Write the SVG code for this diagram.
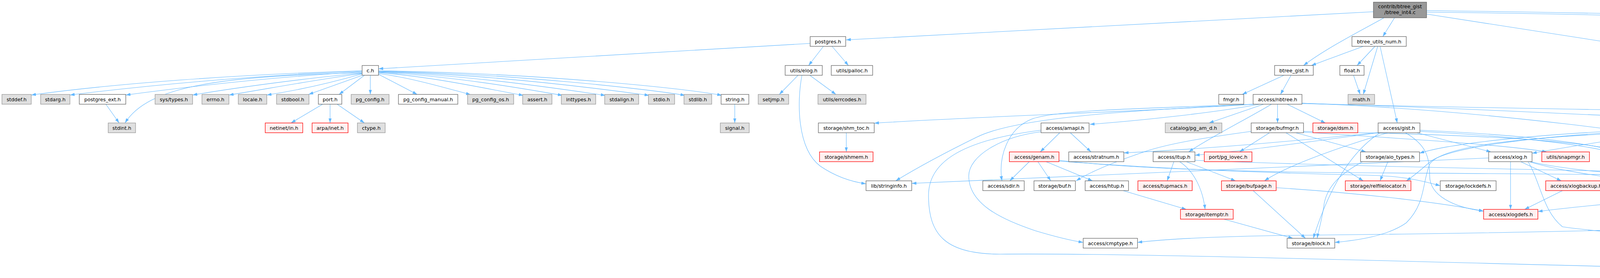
<svg xmlns="http://www.w3.org/2000/svg" width="6016" height="711" viewBox="0 0 6016 711">
<style>
.e{fill:none;stroke:#63b8ff;stroke-width:1.1;marker-end:url(#a)}
.n rect{fill:#fff;stroke:#666;stroke-width:1.3}
.g rect{fill:#e0e0e0;stroke:#999;stroke-width:1.3}
.r rect{fill:#fff0f0;stroke:#f00;stroke-width:1.3}
.t rect{fill:#999;stroke:#666;stroke-width:1.3}
text{font-family:"DejaVu Sans","Liberation Sans",sans-serif;font-size:12.7px;text-anchor:middle;fill:#000}
</style>
<defs>
<marker id="a" viewBox="0 0 12 8" refX="12" refY="4" markerWidth="12" markerHeight="8" markerUnits="userSpaceOnUse" orient="auto"><path d="M0,0 L12,4 L0,8 z" fill="#63b8ff"/></marker>
</defs>
<rect width="6016" height="711" fill="#fff"/>
<g id="edges">
<path class="e" d="M3516,30 L2166,102"/>
<path class="e" d="M3543,45.5 C3500,70 3400,120 3337,167.5"/>
<path class="e" d="M3570,45.5 L3540,93.5"/>
<path class="e" d="M3652,27 C4600,40 5400,65 5899,94"/>
<path class="e" d="M3652,36 L5011,247"/>
<path class="e" d="M3652,31 C4500,40 5300,80 5700,120 C5820,140 5861,160 5861,190 L5861,250 C5861,300 5880,340 5908,388"/>
<path class="e" d="M2074,111 L969,176"/>
<path class="e" d="M2108,118.5 L2070,167.5"/>
<path class="e" d="M2130,118.5 L2172,167.5"/>
<path class="e" d="M927,181 C600,191 300,213 80,243"/>
<path class="e" d="M927,182 C650,193 380,218 179,243"/>
<path class="e" d="M927,184 C700,196 480,222 322,243"/>
<path class="e" d="M927,186 C560,195 380,220 320,314.5"/>
<path class="e" d="M927,187 C780,200 600,225 493,243"/>
<path class="e" d="M927,188 C800,205 680,228 586,243"/>
<path class="e" d="M927,189 C860,208 770,230 683,243"/>
<path class="e" d="M929,192 L790,241.5"/>
<path class="e" d="M933,192.5 L868,241.5"/>
<path class="e" d="M948,192.5 L948,241.5"/>
<path class="e" d="M969,190 L1068,241.5"/>
<path class="e" d="M969,188 C1060,200 1150,228 1205,242"/>
<path class="e" d="M969,186 C1110,196 1260,230 1340,244"/>
<path class="e" d="M969,185 C1160,194 1360,230 1440,244"/>
<path class="e" d="M969,184 C1210,192 1450,230 1550,244"/>
<path class="e" d="M969,183 C1260,190 1560,230 1662,244"/>
<path class="e" d="M969,182 C1310,188 1660,228 1754,244"/>
<path class="e" d="M969,181 C1360,186 1760,226 1848,244"/>
<path class="e" d="M271,266.5 L305,314.5"/>
<path class="e" d="M826,266.5 L745,314.5"/>
<path class="e" d="M845,266.5 L845,314.5"/>
<path class="e" d="M863,266.5 L933,314.5"/>
<path class="e" d="M1881,266.5 L1881,314.5"/>
<path class="e" d="M2043,192.5 L1995,241.5"/>
<path class="e" d="M2073,192.5 L2140,241.5"/>
<path class="e" d="M2053,192.5 C2040,260 2040,380 2100,425 C2140,452 2180,465 2217,470"/>
<path class="e" d="M2166.5,339.5 L2166.5,388.5"/>
<path class="e" d="M3490,118.5 L3357,167.5"/>
<path class="e" d="M3520,118.5 L3474,167.5"/>
<path class="e" d="M3527,118.5 L3490,241.5"/>
<path class="e" d="M3533,118.5 L3577,314.5"/>
<path class="e" d="M3465,192.5 L3482,241.5"/>
<path class="e" d="M3287,192.5 L3180,241.5"/>
<path class="e" d="M3305,192.5 L3278,241.5"/>
<path class="e" d="M3210,266.5 C3000,282 2500,298 2238,315"/>
<path class="e" d="M3212,266.5 C2900,282 2600,300 2500,351 C2400,400 2330,440 2293,462.5"/>
<path class="e" d="M3225,266.5 C3100,290 2900,310 2790,318"/>
<path class="e" d="M3214,266.5 C2900,278 2700,282 2640,305 C2580,330 2555,400 2565,462.5"/>
<path class="e" d="M3235,266.5 L3095,314.5"/>
<path class="e" d="M3255,266.5 C3200,300 3100,350 3043,388.5"/>
<path class="e" d="M3270.5,266.5 L3270.5,314.5"/>
<path class="e" d="M3295,266.5 L3393,314.5"/>
<path class="e" d="M3333,264 C3800,278 4300,305 4669,322"/>
<path class="e" d="M3333,264 C3800,280 4300,350 4500,388.5"/>
<path class="e" d="M3333,265 C3900,280 4600,285 4880,300 C5100,315 5220,370 5258,396"/>
<path class="e" d="M2713,339.5 L2663,388.5"/>
<path class="e" d="M2740,339.5 L2793,388.5"/>
<path class="e" d="M2665,337 C2560,350 2480,400 2480,450 C2480,520 2560,560 2650,590 C2700,605 2740,615 2773,620"/>
<path class="e" d="M2665,333 C2450,360 2377,420 2377,500 C2377,600 2420,650 2560,650 C3000,645 4200,690 4871,696"/>
<path class="e" d="M2635,413.5 L2585,462.5"/>
<path class="e" d="M2657,413.5 L2690,462.5"/>
<path class="e" d="M2678,413.5 L2797,462.5"/>
<path class="e" d="M2711,410 C2900,432 3200,440 3500,442 C4200,446 4750,450 4883,474"/>
<path class="e" d="M2711,412 C3000,435 3350,445 3500,448 C3600,450 3650,465 3687,475"/>
<path class="e" d="M3005,413.5 L2988,462.5"/>
<path class="e" d="M3037,413.5 L3163,462.5"/>
<path class="e" d="M3020,413.5 C3060,440 3080,490 3085,535.5"/>
<path class="e" d="M3059,410 C3600,432 4400,440 4760,452 C4830,470 4860,522 5026,540"/>
<path class="e" d="M2875,487.5 L3037,535.5"/>
<path class="e" d="M3203,336 C3100,350 3000,365 2933,387 C2850,415 2790,440 2755,462.5"/>
<path class="e" d="M3250,339.5 L3173,388.5"/>
<path class="e" d="M3317,339.5 L3497,388.5"/>
<path class="e" d="M3292,339.5 L3490,462.5"/>
<path class="e" d="M3337,336 C3800,345 4150,360 4210,410 C4260,440 4700,445 4883,470"/>
<path class="e" d="M3337,338 C3600,355 3850,370 3960,388.5"/>
<path class="e" d="M3208,487.5 L3342,609.5"/>
<path class="e" d="M3133,560.5 L3310,609.5"/>
<path class="e" d="M3528,339 C3300,362 3100,380 2877,391"/>
<path class="e" d="M3530,339.5 C3350,362 3200,385 3059,397"/>
<path class="e" d="M3627,339.5 L3817,388.5"/>
<path class="e" d="M3598,339.5 C3650,370 3660,400 3660,450 C3660,500 3720,530 3798,540"/>
<path class="e" d="M3553,339.5 C3450,370 3300,420 3237,462.5"/>
<path class="e" d="M3533,339.5 C3440,400 3390,520 3362,609.5"/>
<path class="e" d="M3635,333 C3900,345 4150,370 4200,412 C4260,445 4700,450 4883,473"/>
<path class="e" d="M3635,336 C3900,350 4130,375 4190,412 C4250,440 4500,445 4580,462.5"/>
<path class="e" d="M3553,413.5 L3533,462.5"/>
<path class="e" d="M3488,413.5 C3440,440 3400,470 3390,520 C3385,560 3375,590 3372,609.5"/>
<path class="e" d="M3867,413.5 L3867,535.5"/>
<path class="e" d="M3893,413.5 L3997,462.5"/>
<path class="e" d="M3811,404 C3300,425 2800,450 2334,469"/>
<path class="e" d="M3915,413.5 C4000,440 4120,452 4170,462.5"/>
<path class="e" d="M3918,413.5 C4050,445 4300,450 4335,462.5"/>
<path class="e" d="M3912,413.5 C3945,470 3950,540 4000,580 C4200,610 4700,615 4869,620"/>
<path class="e" d="M4000,487.5 L3903,535.5"/>
<path class="e" d="M4280,339.5 L4360,388.5"/>
<path class="e" d="M4199,332 C3900,345 3700,370 3634,392"/>
<path class="e" d="M4199,335 C3900,350 3700,380 3660,415 C3630,440 3620,450 3600,462.5"/>
<path class="e" d="M4199,337 C4000,350 3700,360 3660,420 C3640,470 3650,520 3600,570 C3550,605 3470,615 3417,620"/>
<path class="e" d="M5063,266.5 C5150,330 5225,420 5215,474 C5205,505 5170,525 5135,535.5"/>
<path class="e" d="M5011,262 C4500,300 4100,360 3922,392"/>
<path class="e" d="M5082,266.5 L5207,314.5"/>
<path class="e" d="M5093,263 C5250,280 5330,310 5333,388.5"/>
<path class="e" d="M5020,266.5 L4800,314.5"/>
<path class="e" d="M5093,260 L5413,314.5"/>
<path class="e" d="M5052,266.5 C5050,330 5000,350 4960,357 C4900,368 4880,390 4887,410 C4893,430 4905,445 4918,462.5"/>
<path class="e" d="M5093,258 C5500,265 5720,280 5780,315 C5815,340 5822,400 5822,460 C5822,500 5816,520 5813,535.5"/>
<path class="e" d="M5011,255 C4700,270 4400,300 4318,318"/>
<path class="e" d="M5030,266.5 L4985,314.5"/>
<path class="e" d="M5255,339.5 L5313,388.5"/>
<path class="e" d="M5222,339.5 C5150,380 5050,430 5000,462.5"/>
<path class="e" d="M5495,339.5 L5515,388.5"/>
<path class="e" d="M5558,339.5 C5620,370 5650,400 5630,420 C5610,440 5580,455 5561,462.5"/>
<path class="e" d="M5410,339.5 L5075,388.5"/>
<path class="e" d="M5330,413.5 L5334,462.5"/>
<path class="e" d="M5358,413.5 L5475,462.5"/>
<path class="e" d="M4743,339.5 L4746,388.5"/>
<path class="e" d="M4814,338 C4900,350 5000,365 5100,385 C5250,415 5380,440 5445,462.5"/>
<path class="e" d="M4983,413.5 L4953,462.5"/>
<path class="e" d="M5010,413.5 L5077,462.5"/>
<path class="e" d="M5150,487.5 C5210,505 5225,540 5221,560 C5215,580 5210,595 5205,609.5"/>
<path class="e" d="M5167,487.5 L5415,535.5"/>
<path class="e" d="M5077,487.5 L4985,535.5"/>
<path class="e" d="M4929,560.5 L4929,609.5"/>
<path class="e" d="M4929,634.5 L4929,683.5"/>
<path class="e" d="M5153,634.5 L4975,683.5"/>
<path class="e" d="M5160,561 C5300,575 5450,600 5519,618"/>
<path class="e" d="M5773,560.5 L5625,609.5"/>
<path class="e" d="M5921,413.5 C5925,470 5915,520 5890,550 C5850,590 5720,612 5651,618"/>
<path class="e" d="M5848,406 C5700,412 5550,420 5508,422 L5005,466"/>
<path class="e" d="M4569,484 C4450,493 4100,520 3937,541"/>
<path class="e" d="M4593,412 C4700,430 4800,455 4883,468"/>
<path class="e" d="M3267,480 C3500,495 3700,520 3798,540"/>
<path class="e" d="M4856,556 C4400,590 3700,598 3300,602 C3100,605 2980,612 2912,620"/>
<path class="e" d="M5003,558 C5200,590 5400,605 5519,615"/>
<path class="e" d="M4990,560.5 L5150,609.5"/>
<path class="e" d="M5040,560.5 L4985,609.5"/>
</g>
<g id="n_root" class="t"><rect x="3516" y="5.5" width="136" height="40"/><text x="3584" y="21">contrib/btree_gist</text><text x="3584" y="36">/btree_int4.c</text></g>
<g id="n_postgres_h" class="n"><rect x="2074" y="93.5" width="91" height="25"/><text x="2119.5" y="110.5">postgres.h</text></g>
<g id="n_btree_utils_num_h" class="n"><rect x="3461" y="93.5" width="139" height="25"/><text x="3530.5" y="110.5">btree_utils_num.h</text></g>
<g id="n_common_int_h" class="n"><rect x="5899" y="93.5" width="112" height="25"/><text x="5955" y="110.5">common/int.h</text></g>
<g id="n_c_h" class="n"><rect x="927" y="167.5" width="42" height="25"/><text x="948" y="184.5">c.h</text></g>
<g id="n_utils_elog_h" class="n"><rect x="2010" y="167.5" width="95" height="25"/><text x="2057.5" y="184.5">utils/elog.h</text></g>
<g id="n_utils_palloc_h" class="n"><rect x="2128" y="167.5" width="106" height="25"/><text x="2181" y="184.5">utils/palloc.h</text></g>
<g id="n_btree_gist_h" class="n"><rect x="3263" y="167.5" width="99" height="25"/><text x="3312.5" y="184.5">btree_gist.h</text></g>
<g id="n_float_h" class="n"><rect x="3430" y="167.5" width="62" height="25"/><text x="3461" y="184.5">float.h</text></g>
<g id="n_stddef_h" class="g"><rect x="5" y="241.5" width="75" height="25"/><text x="42.5" y="258.5">stddef.h</text></g>
<g id="n_stdarg_h" class="g"><rect x="104" y="241.5" width="75" height="25"/><text x="141.5" y="258.5">stdarg.h</text></g>
<g id="n_postgres_ext_h" class="n"><rect x="203" y="241.5" width="119" height="25"/><text x="262.5" y="258.5">postgres_ext.h</text></g>
<g id="n_sys_types_h" class="g"><rect x="397" y="241.5" width="96" height="25"/><text x="445" y="258.5">sys/types.h</text></g>
<g id="n_errno_h" class="g"><rect x="517" y="241.5" width="69" height="25"/><text x="551.5" y="258.5">errno.h</text></g>
<g id="n_locale_h" class="g"><rect x="610" y="241.5" width="73" height="25"/><text x="646.5" y="258.5">locale.h</text></g>
<g id="n_stdbool_h" class="g"><rect x="708" y="241.5" width="83" height="25"/><text x="749.5" y="258.5">stdbool.h</text></g>
<g id="n_port_h" class="n"><rect x="815" y="241.5" width="60" height="25"/><text x="845" y="258.5">port.h</text></g>
<g id="n_pg_config_h" class="g"><rect x="899" y="241.5" width="97" height="25"/><text x="947.5" y="258.5">pg_config.h</text></g>
<g id="n_pg_config_manual_h" class="n"><rect x="1020" y="241.5" width="152" height="25"/><text x="1096" y="258.5">pg_config_manual.h</text></g>
<g id="n_pg_config_os_h" class="g"><rect x="1197" y="241.5" width="118" height="25"/><text x="1256" y="258.5">pg_config_os.h</text></g>
<g id="n_assert_h" class="g"><rect x="1338" y="241.5" width="75" height="25"/><text x="1375.5" y="258.5">assert.h</text></g>
<g id="n_inttypes_h" class="g"><rect x="1437" y="241.5" width="88" height="25"/><text x="1481" y="258.5">inttypes.h</text></g>
<g id="n_stdalign_h" class="g"><rect x="1548" y="241.5" width="87" height="25"/><text x="1591.5" y="258.5">stdalign.h</text></g>
<g id="n_stdio_h" class="g"><rect x="1660" y="241.5" width="67" height="25"/><text x="1693.5" y="258.5">stdio.h</text></g>
<g id="n_stdlib_h" class="g"><rect x="1751" y="241.5" width="71" height="25"/><text x="1786.5" y="258.5">stdlib.h</text></g>
<g id="n_string_h" class="n"><rect x="1846" y="241.5" width="71" height="25"/><text x="1881.5" y="258.5">string.h</text></g>
<g id="n_setjmp_h" class="g"><rect x="1941" y="241.5" width="78" height="25"/><text x="1980" y="258.5">setjmp.h</text></g>
<g id="n_utils_errcodes_h" class="g"><rect x="2094" y="241.5" width="123" height="25"/><text x="2155.5" y="258.5">utils/errcodes.h</text></g>
<g id="n_fmgr_h" class="n"><rect x="3120" y="241.5" width="64" height="25"/><text x="3152" y="258.5">fmgr.h</text></g>
<g id="n_access_nbtree_h" class="n"><rect x="3208" y="241.5" width="125" height="25"/><text x="3270.5" y="258.5">access/nbtree.h</text></g>
<g id="n_math_h" class="g"><rect x="3451" y="241.5" width="68" height="25"/><text x="3485" y="258.5">math.h</text></g>
<g id="n_utils_rel_h" class="n"><rect x="5011" y="241.5" width="82" height="25"/><text x="5052" y="258.5">utils/rel.h</text></g>
<g id="n_stdint_h" class="g"><rect x="277" y="314.5" width="70" height="25"/><text x="312" y="331.5">stdint.h</text></g>
<g id="n_netinet_in_h" class="r"><rect x="679" y="314.5" width="96" height="25"/><text x="727" y="331.5">netinet/in.h</text></g>
<g id="n_arpa_inet_h" class="r"><rect x="799" y="314.5" width="92" height="25"/><text x="845" y="331.5">arpa/inet.h</text></g>
<g id="n_ctype_h" class="g"><rect x="915" y="314.5" width="71" height="25"/><text x="950.5" y="331.5">ctype.h</text></g>
<g id="n_signal_h" class="g"><rect x="1844" y="314.5" width="74" height="25"/><text x="1881" y="331.5">signal.h</text></g>
<g id="n_storage_shm_toc_h" class="n"><rect x="2095" y="314.5" width="143" height="25"/><text x="2166.5" y="331.5">storage/shm_toc.h</text></g>
<g id="n_access_amapi_h" class="n"><rect x="2665" y="314.5" width="123" height="25"/><text x="2726.5" y="331.5">access/amapi.h</text></g>
<g id="n_catalog_pg_am_d_h" class="g"><rect x="2983" y="314.5" width="145" height="25"/><text x="3055.5" y="331.5">catalog/pg_am_d.h</text></g>
<g id="n_storage_bufmgr_h" class="n"><rect x="3203" y="314.5" width="134" height="25"/><text x="3270" y="331.5">storage/bufmgr.h</text></g>
<g id="n_storage_dsm_h" class="r"><rect x="3361" y="314.5" width="115" height="25"/><text x="3418.5" y="331.5">storage/dsm.h</text></g>
<g id="n_access_gist_h" class="n"><rect x="3528" y="314.5" width="107" height="25"/><text x="3581.5" y="331.5">access/gist.h</text></g>
<g id="n_storage_smgr_h" class="n"><rect x="4199" y="314.5" width="119" height="25"/><text x="4258.5" y="331.5">storage/smgr.h</text></g>
<g id="n_catalog_pg_index_h" class="n"><rect x="4669" y="314.5" width="145" height="25"/><text x="4741.5" y="331.5">catalog/pg_index.h</text></g>
<g id="n_utils_reltrigger_h" class="n"><rect x="4889" y="314.5" width="126" height="25"/><text x="4952" y="331.5">utils/reltrigger.h</text></g>
<g id="n_catalog_catalog_h" class="n"><rect x="5172" y="314.5" width="135" height="25"/><text x="5239.5" y="331.5">catalog/catalog.h</text></g>
<g id="n_catalog_pg_publication_h" class="n"><rect x="5400" y="314.5" width="181" height="25"/><text x="5490.5" y="331.5">catalog/pg_publication.h</text></g>
<g id="n_storage_shmem_h" class="r"><rect x="2098" y="388.5" width="137" height="25"/><text x="2166.5" y="405.5">storage/shmem.h</text></g>
<g id="n_access_genam_h" class="r"><rect x="2584" y="388.5" width="127" height="25"/><text x="2647.5" y="405.5">access/genam.h</text></g>
<g id="n_access_stratnum_h" class="n"><rect x="2736" y="388.5" width="141" height="25"/><text x="2806.5" y="405.5">access/stratnum.h</text></g>
<g id="n_access_itup_h" class="n"><rect x="2952" y="388.5" width="107" height="25"/><text x="3005.5" y="405.5">access/itup.h</text></g>
<g id="n_port_pg_iovec_h" class="r"><rect x="3083" y="388.5" width="122" height="25"/><text x="3144" y="405.5">port/pg_iovec.h</text></g>
<g id="n_storage_aio_types_h" class="n"><rect x="3483" y="388.5" width="151" height="25"/><text x="3558.5" y="405.5">storage/aio_types.h</text></g>
<g id="n_access_xlog_h" class="n"><rect x="3811" y="388.5" width="111" height="25"/><text x="3866.5" y="405.5">access/xlog.h</text></g>
<g id="n_utils_snapmgr_h" class="r"><rect x="3947" y="388.5" width="122" height="25"/><text x="4008" y="405.5">utils/snapmgr.h</text></g>
<g id="n_lib_ilist_h" class="n"><rect x="4347" y="388.5" width="79" height="25"/><text x="4386.5" y="405.5">lib/ilist.h</text></g>
<g id="n_utils_skipsupport_h" class="n"><rect x="4450" y="388.5" width="143" height="25"/><text x="4521.5" y="405.5">utils/skipsupport.h</text></g>
<g id="n_catalog_pg_index_d_h" class="g"><rect x="4668" y="388.5" width="160" height="25"/><text x="4748" y="405.5">catalog/pg_index_d.h</text></g>
<g id="n_catalog_objectaddress_h" class="n"><rect x="4903" y="388.5" width="178" height="25"/><text x="4992" y="405.5">catalog/objectaddress.h</text></g>
<g id="n_catalog_pg_class_h" class="n"><rect x="5258" y="388.5" width="142" height="25"/><text x="5329" y="405.5">catalog/pg_class.h</text></g>
<g id="n_catalog_pg_publication_d_h" class="g"><rect x="5424" y="388.5" width="196" height="25"/><text x="5522" y="405.5">catalog/pg_publication_d.h</text></g>
<g id="n_utils_sortsupport_h" class="n"><rect x="5848" y="388.5" width="141" height="25"/><text x="5918.5" y="405.5">utils/sortsupport.h</text></g>
<g id="n_lib_stringinfo_h" class="n"><rect x="2217" y="462.5" width="117" height="25"/><text x="2275.5" y="479.5">lib/stringinfo.h</text></g>
<g id="n_access_sdir_h" class="n"><rect x="2516" y="462.5" width="106" height="25"/><text x="2569" y="479.5">access/sdir.h</text></g>
<g id="n_storage_buf_h" class="n"><rect x="2647" y="462.5" width="106" height="25"/><text x="2700" y="479.5">storage/buf.h</text></g>
<g id="n_access_htup_h" class="n"><rect x="2778" y="462.5" width="111" height="25"/><text x="2833.5" y="479.5">access/htup.h</text></g>
<g id="n_access_tupmacs_h" class="r"><rect x="2913" y="462.5" width="139" height="25"/><text x="2982.5" y="479.5">access/tupmacs.h</text></g>
<g id="n_storage_bufpage_h" class="r"><rect x="3127" y="462.5" width="140" height="25"/><text x="3197" y="479.5">storage/bufpage.h</text></g>
<g id="n_storage_relfilelocator_h" class="r"><rect x="3444" y="462.5" width="168" height="25"/><text x="3528" y="479.5">storage/relfilelocator.h</text></g>
<g id="n_storage_lockdefs_h" class="n"><rect x="3687" y="462.5" width="143" height="25"/><text x="3758.5" y="479.5">storage/lockdefs.h</text></g>
<g id="n_access_xlogbackup_h" class="r"><rect x="3957" y="462.5" width="156" height="25"/><text x="4035" y="479.5">access/xlogbackup.h</text></g>
<g id="n_replication_logicalctl_h" class="n"><rect x="4137" y="462.5" width="166" height="25"/><text x="4220" y="479.5">replication/logicalctl.h</text></g>
<g id="n_datatype_timestamp_h" class="n"><rect x="4327" y="462.5" width="167" height="25"/><text x="4410.5" y="479.5">datatype/timestamp.h</text></g>
<g id="n_access_transam_h" class="n"><rect x="4569" y="462.5" width="136" height="25"/><text x="4637" y="479.5">access/transam.h</text></g>
<g id="n_utils_relcache_h" class="r"><rect x="4883" y="462.5" width="122" height="25"/><text x="4944" y="479.5">utils/relcache.h</text></g>
<g id="n_nodes_parsenodes_h" class="r"><rect x="5029" y="462.5" width="152" height="25"/><text x="5105" y="479.5">nodes/parsenodes.h</text></g>
<g id="n_catalog_pg_class_d_h" class="g"><rect x="5257" y="462.5" width="157" height="25"/><text x="5335.5" y="479.5">catalog/pg_class_d.h</text></g>
<g id="n_catalog_genbki_h" class="n"><rect x="5439" y="462.5" width="130" height="25"/><text x="5504" y="479.5">catalog/genbki.h</text></g>
<g id="n_storage_itemptr_h" class="r"><rect x="3022" y="535.5" width="135" height="25"/><text x="3089.5" y="552.5">storage/itemptr.h</text></g>
<g id="n_access_xlogdefs_h" class="r"><rect x="3798" y="535.5" width="139" height="25"/><text x="3867.5" y="552.5">access/xlogdefs.h</text></g>
<g id="n_nodes_primnodes_h" class="n"><rect x="4856" y="535.5" width="147" height="25"/><text x="4929.5" y="552.5">nodes/primnodes.h</text></g>
<g id="n_access_tupdesc_h" class="r"><rect x="5026" y="535.5" width="134" height="25"/><text x="5093" y="552.5">access/tupdesc.h</text></g>
<g id="n_partitioning_partdefs_h" class="n"><rect x="5393" y="535.5" width="166" height="25"/><text x="5476" y="552.5">partitioning/partdefs.h</text></g>
<g id="n_rewrite_prs2lock_h" class="n"><rect x="5741" y="535.5" width="139" height="25"/><text x="5810.5" y="552.5">rewrite/prs2lock.h</text></g>
<g id="n_access_cmptype_h" class="n"><rect x="2773" y="609.5" width="139" height="25"/><text x="2842.5" y="626.5">access/cmptype.h</text></g>
<g id="n_storage_block_h" class="n"><rect x="3295" y="609.5" width="122" height="25"/><text x="3356" y="626.5">storage/block.h</text></g>
<g id="n_nodes_pg_list_h" class="n"><rect x="4869" y="609.5" width="120" height="25"/><text x="4929" y="626.5">nodes/pg_list.h</text></g>
<g id="n_nodes_bitmapset_h" class="n"><rect x="5126" y="609.5" width="143" height="25"/><text x="5197.5" y="626.5">nodes/bitmapset.h</text></g>
<g id="n_access_attnum_h" class="n"><rect x="5519" y="609.5" width="130" height="25"/><text x="5584" y="626.5">access/attnum.h</text></g>
<g id="n_nodes_nodes_h" class="r"><rect x="4871" y="683.5" width="116" height="25"/><text x="4929" y="700.5">nodes/nodes.h</text></g>
</svg>
